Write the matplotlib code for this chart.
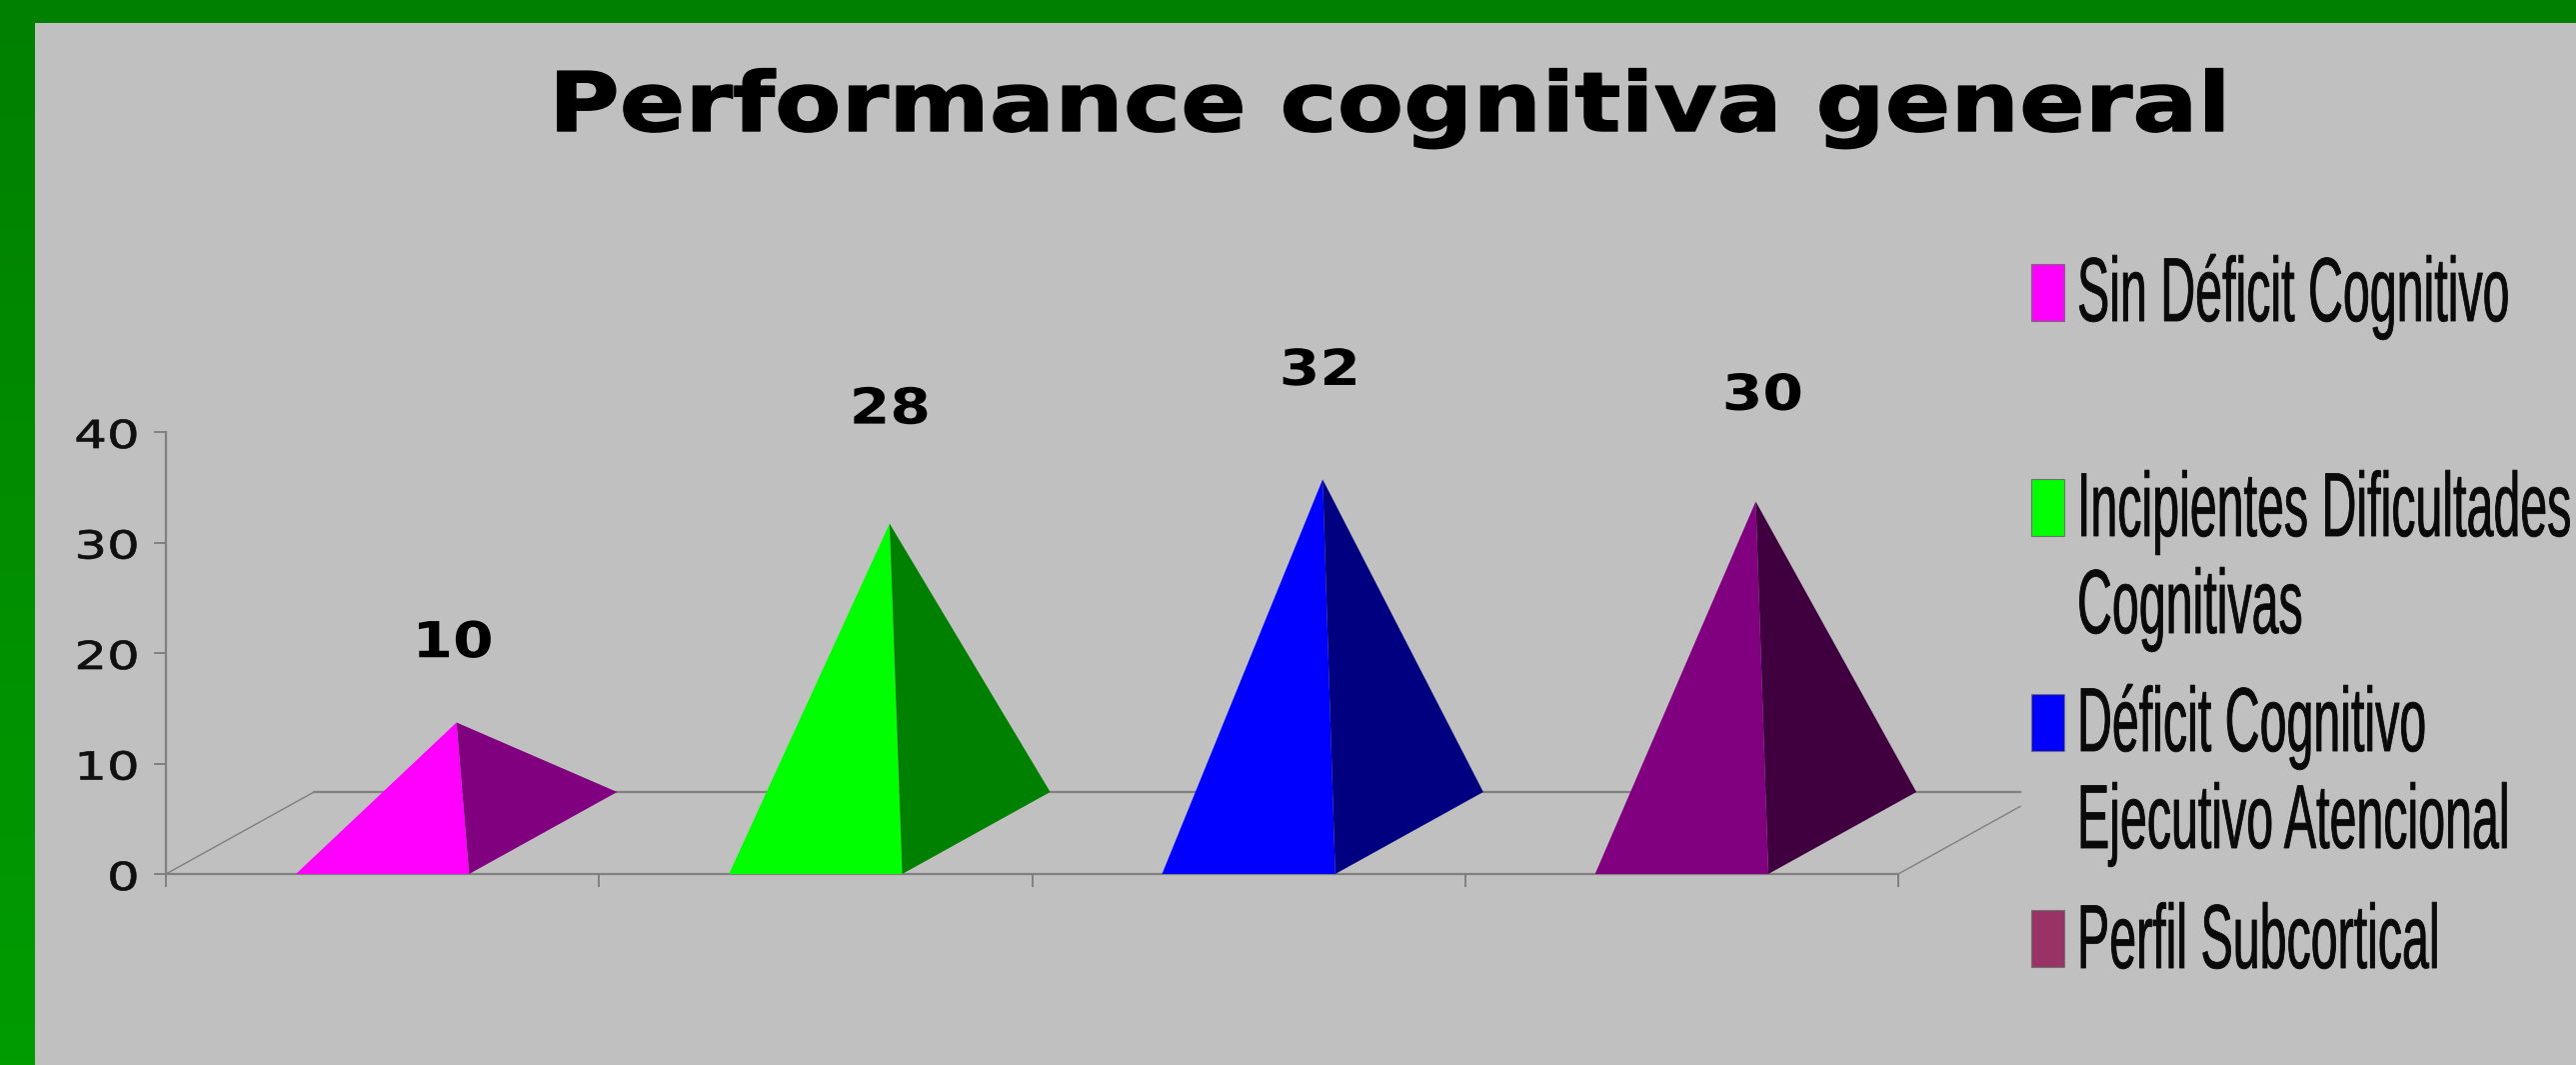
import matplotlib
matplotlib.use('Agg')
import matplotlib.pyplot as plt
import numpy as np
from matplotlib.colors import LinearSegmentedColormap
from matplotlib.patches import Polygon, Rectangle
from matplotlib.patheffects import AbstractPathEffect
from matplotlib.transforms import Affine2D

# Chart data
title = 'Performance cognitiva general'
values = [10, 28, 32, 30]
y_ticks = [0, 10, 20, 30, 40]
legend_labels = ['Sin Déficit Cognitivo', 'Incipientes Dificultades\nCognitivas',
                 'Déficit Cognitivo\nEjecutivo Atencional', 'Perfil Subcortical']
front_colors = ['#FF00FF', '#00FF00', '#0000FF', '#800080']
side_colors = ['#800080', '#008000', '#000080', '#400040']
legend_colors = ['#FF00FF', '#00FF00', '#0000FF', '#993366']

W, H = 2577, 1065
BG = '#C0C0C0'
AXIS = '#808080'


# the source picture was resized unevenly, so glyphs get stretched up/down from the baseline
class StretchY(AbstractPathEffect):
    def __init__(self, sy, lw=0.0, shift=0):
        super().__init__()
        self.sy = sy
        self.lw = lw
        self.shift = shift

    def draw_path(self, renderer, gc, tpath, affine, rgbFace=None):
        gc0 = renderer.new_gc()
        gc0.copy_properties(gc)
        gc0.set_linewidth(self.lw)
        gc0.set_foreground(rgbFace)
        tr = Affine2D().scale(1, self.sy) + affine + Affine2D().translate(0, -self.shift)
        renderer.draw_path(gc0, tpath, tr, rgbFace)
        gc0.restore()


def fx(px):
    return px / W


def fy(py):
    return 1 - py / H


fig = plt.figure(figsize=(W / 100, H / 100), dpi=100, facecolor=BG)

# green frame on the left (fades slightly brighter downwards) and top
band = fig.add_axes([0, 0, fx(35), 1])
band.axis('off')
green_cmap = LinearSegmentedColormap.from_list('frame', ['#008000', '#009C00'])
band.imshow(np.linspace(0, 1, 256).reshape(-1, 1), aspect='auto', cmap=green_cmap)
fig.add_artist(Rectangle((0, fy(23)), 1, 23 / H, transform=fig.transFigure, color='#008000', lw=0))

ax = fig.add_axes([fx(166), fy(874), fx(1899 - 166), fy(432) - fy(874)])
ax.set_facecolor('none')
ax.set_xlim(0, len(values))
ax.set_ylim(0, 40)

# oblique depth of the 3D floor, in category and value units
dx = 148 / 433
dy = 82 / 11.05
bar_w = 0.4
clip_end = 0.824

for s in ['top', 'right']:
    ax.spines[s].set_visible(False)
for s in ['left', 'bottom']:
    ax.spines[s].set_color(AXIS)
    ax.spines[s].set_linewidth(1.6)

ax.set_xticks(range(len(values) + 1))
ax.set_xticklabels([])
ax.set_yticks(y_ticks)
ax.tick_params(axis='x', length=9, width=1.4, color=AXIS, direction='out')
ax.tick_params(axis='y', length=9, width=1.4, color=AXIS, direction='out', pad=10)
for lab in ax.get_yticklabels():
    lab.set_fontsize(37)
    lab.set_color('#101010')
    lab.set_path_effects([StretchY(0.75, lw=0.5, shift=2)])
    lab.set_verticalalignment('center')

# floor lines
n = len(values)
ax.plot([0, dx], [0, dy], color=AXIS, lw=1, clip_on=False, zorder=1)
ax.plot([n, n + dx * clip_end], [0, dy * clip_end], color=AXIS, lw=1, clip_on=False, zorder=1)
ax.plot([dx, n + dx * clip_end], [dy, dy], color=AXIS, lw=1.6, clip_on=False, zorder=1)

# pyramids, label offsets are points from the apex
label_dx = [-2.6, 0.3, -2, 5]
label_dy = [47, 72, 68, 66]
for i, v in enumerate(values):
    left = i + 0.5 - bar_w / 2
    right = i + 0.5 + bar_w / 2
    apex = (i + 0.5 + dx / 2, v + dy / 2)
    ax.add_patch(Polygon([(left, 0), (right, 0), apex], closed=True, fc=front_colors[i],
                         ec='none', clip_on=False, zorder=3))
    ax.add_patch(Polygon([(right, 0), (right + dx, dy), apex], closed=True, fc=side_colors[i],
                         ec='none', clip_on=False, zorder=3))
    t = ax.annotate(str(v), xy=apex, xytext=(label_dx[i], label_dy[i]), textcoords='offset points',
                    ha='center', va='baseline', fontsize=42, fontweight='bold', color='black',
                    annotation_clip=False, zorder=4)
    t.set_path_effects([StretchY(0.85)])

t = fig.text(fx(1390), fy(131), title, ha='center', va='baseline', fontsize=69.6,
             fontweight='bold', color='black')
t.set_path_effects([StretchY(0.85, lw=1.0)])

# legend, built by hand because the entry spacing is uneven
swatch_tops = [264, 479, 694, 910]
line_baselines = [[321], [536, 633], [751, 848], [968]]
for i, label in enumerate(legend_labels):
    fig.add_artist(Rectangle((fx(2032), fy(swatch_tops[i] + 57)), 33 / W, 57 / H,
                             transform=fig.transFigure, fc=legend_colors[i], ec='#707070', lw=0.8))
    for line, base in zip(label.split('\n'), line_baselines[i]):
        txt = fig.text(fx(2078), fy(base), line, ha='left', va='baseline', fontsize=34.8,
                       family='Liberation Sans', color='#0A0A0A')
        txt.set_path_effects([StretchY(1.88, lw=0.6)])

fig.savefig('out.png', dpi=100, facecolor=BG)
